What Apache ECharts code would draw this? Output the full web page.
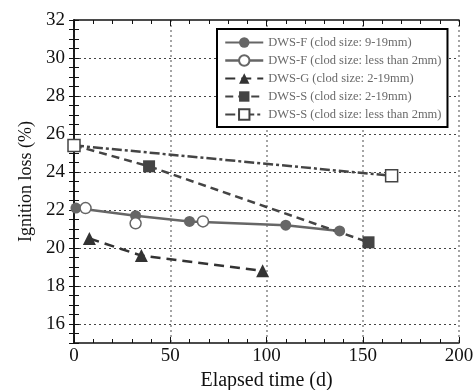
<!DOCTYPE html>
<html>
<head>
<meta charset="utf-8">
<script src="https://cdn.jsdelivr.net/npm/echarts@6/dist/echarts.min.js"></script>
<style>
  html, body { margin: 0; padding: 0; background: #fff; }
  #chart { width: 474px; height: 390px; }
</style>
</head>
<body>
<div id="chart"></div>
<script>
// values: [elapsed days, ignition loss %]
const dwsF_coarse = [[1, 22.1], [32, 21.7], [60, 21.4], [110, 21.2], [138, 20.9]];
const dwsF_fine = [[6, 22.1], [32, 21.3], [67, 21.4]];
const dwsG_coarse = [[8, 20.5], [35, 19.6], [98, 18.8]];
const dwsS_coarse = [[0, 25.4], [39, 24.3], [153, 20.3]];
const dwsS_fine = [[0, 25.4], [165, 23.8]];

const seriesNames = [
  'DWS-F (clod size: 9-19mm)',
  'DWS-F (clod size: less than 2mm)',
  'DWS-G (clod size: 2-19mm)',
  'DWS-S (clod size: 2-19mm)',
  'DWS-S (clod size: less than 2mm)'
];

const yLabels = [16, 18, 20, 22, 24, 26, 28, 30, 32];
const yGrid = [16, 18, 20, 22, 24, 26, 28, 30];

const font = 'Liberation Serif';
const gridDot = { type: [2, 3], color: '#444', width: 1 };

var myChart = echarts.init(document.getElementById('chart'));

myChart.setOption({
  animation: false,
  grid: { left: 74, right: 15, top: 20, bottom: 47, outerBoundsMode: 'none', containLabel: false },
  legend: {
    orient: 'vertical',
    left: 217,
    top: 29,
    padding: [7, 6, 6, 7],
    backgroundColor: '#fff',
    borderColor: '#000',
    borderWidth: 2,
    itemWidth: 38,
    itemHeight: 13,
    itemGap: 5,
    textStyle: { fontFamily: font, fontSize: 12.5, color: '#6a6a6a' },
    data: [
      { name: seriesNames[0] },
      { name: seriesNames[1], lineStyle: { opacity: 1, width: 2.5, color: '#666' } },
      { name: seriesNames[2] },
      { name: seriesNames[3] },
      { name: seriesNames[4] }
    ]
  },
  xAxis: [
    {
      type: 'value', min: 0, max: 200, interval: 50,
      name: 'Elapsed time (d)', nameLocation: 'middle', nameGap: 25,
      nameTextStyle: { fontFamily: font, fontSize: 20, color: '#111' },
      axisLine: { show: true, lineStyle: { color: '#111', width: 1.5 } },
      axisTick: { inside: true, length: 6, lineStyle: { color: '#111' } },
      minorTick: { show: true, splitNumber: 5, length: 4, lineStyle: { color: '#111' } },
      axisLabel: { fontFamily: font, fontSize: 19, color: '#111', margin: 4 },
      splitLine: { show: true, lineStyle: { type: [2, 3], color: '#888', width: 1.5 } }
    },
    {
      type: 'value', min: 0, max: 200, interval: 50, position: 'top',
      axisLine: { show: true, lineStyle: { color: '#111', width: 1.5 } },
      axisTick: { inside: true, length: 6, lineStyle: { color: '#111' } },
      minorTick: { show: true, splitNumber: 5, length: 4, lineStyle: { color: '#111' } },
      axisLabel: { show: false },
      splitLine: { show: false }
    }
  ],
  yAxis: [
    {
      type: 'value', min: 15, max: 32, interval: 0.5,
      name: 'Ignition loss (%)', nameLocation: 'middle', nameGap: 39,
      nameTextStyle: { fontFamily: font, fontSize: 18, color: '#111' },
      axisLine: { show: true, lineStyle: { color: '#111', width: 1.5 } },
      axisTick: { inside: true, length: 5, lineStyle: { color: '#111' } },
      axisLabel: { fontFamily: font, fontSize: 19, color: '#111', margin: 9, customValues: yLabels },
      splitLine: { show: false }
    },
    {
      type: 'value', min: 15, max: 32, interval: 0.5, position: 'right',
      axisLine: { show: true, lineStyle: { color: '#111', width: 1.5 } },
      axisTick: { inside: true, length: 5, lineStyle: { color: '#111' } },
      axisLabel: { show: false },
      splitLine: { show: false }
    },
    {
      type: 'value', min: 15, max: 32, position: 'left',
      axisLine: { show: false },
      axisTick: { show: false, customValues: yGrid },
      axisLabel: { show: false },
      splitLine: { show: true, lineStyle: gridDot }
    }
  ],
  series: [
    {
      name: seriesNames[0], type: 'line', data: dwsF_coarse,
      symbol: 'circle', symbolSize: 11,
      itemStyle: { color: '#666' },
      lineStyle: { color: '#666', width: 2.5 }
    },
    {
      name: seriesNames[1], type: 'line', data: dwsF_fine,
      symbol: 'circle', symbolSize: 11,
      itemStyle: { color: '#fff', borderColor: '#666', borderWidth: 1.5 },
      lineStyle: { color: '#666', width: 2.5, opacity: 0 }
    },
    {
      name: seriesNames[2], type: 'line', data: dwsG_coarse,
      symbol: 'triangle', symbolSize: 13,
      itemStyle: { color: '#333' },
      lineStyle: { color: '#333', width: 2.5, type: [10, 6] }
    },
    {
      name: seriesNames[3], type: 'line', data: dwsS_coarse,
      symbol: 'rect', symbolSize: 12,
      itemStyle: { color: '#444' },
      lineStyle: { color: '#444', width: 2.5, type: [8, 5] }
    },
    {
      name: seriesNames[4], type: 'line', data: dwsS_fine,
      symbol: 'rect', symbolSize: 12,
      itemStyle: { color: '#fff', borderColor: '#444', borderWidth: 1.5 },
      lineStyle: { color: '#444', width: 2.5, type: [10, 3, 3, 3] }
    }
  ]
});
</script>
</body>
</html>
